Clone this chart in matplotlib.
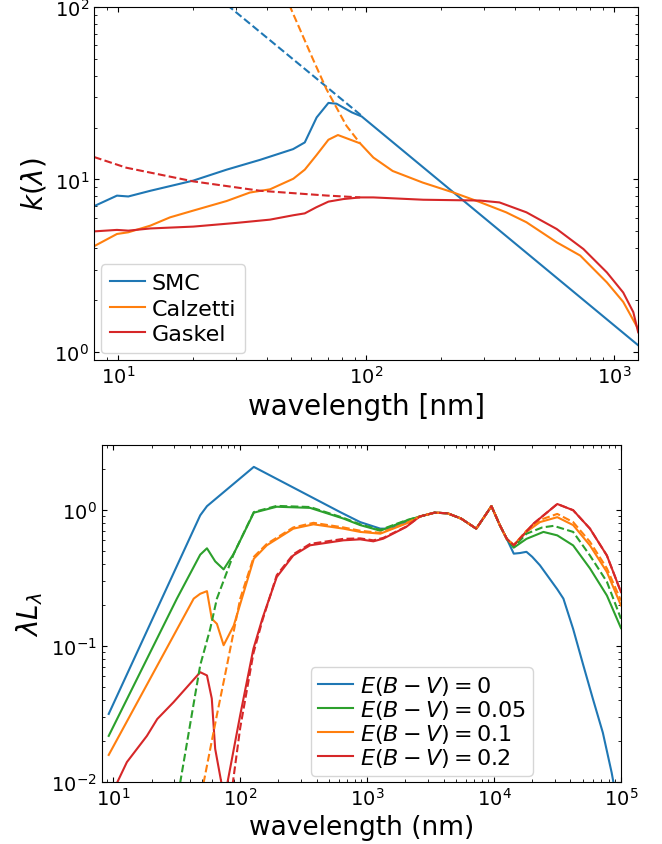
import matplotlib
matplotlib.use("Agg")
import matplotlib.pyplot as plt
import numpy as np

# ---- top panel: extinction curves k(lambda) ----
smc_x = [8.0, 9.9, 11.0, 13.5, 20.1, 27.4, 37.4, 50.8, 56.6, 63.2, 70.5, 76.0, 87.6, 96.0, 1253]
smc_y = [7.0, 8.06, 7.97, 8.6, 9.85, 11.4, 13.0, 15.0, 16.4, 22.9, 27.8, 27.5, 24.5, 23.2, 1.09]
smc_ext_x = [27.5, 96.0]
smc_ext_y = [103, 23.4]

calz_x = [8.0, 9.9, 11.0, 13.5, 16.2, 20.1, 27.4, 34.0, 41.0, 50.9, 56.6, 63.0, 70.5, 77.0, 94.6,
          107, 128, 169, 225, 287, 367, 443, 587, 730, 935, 1088, 1250]
calz_y = [4.1, 4.83, 4.94, 5.4, 6.03, 6.6, 7.5, 8.4, 8.77, 10.1, 11.4, 13.8, 17.0, 18.1, 16.2,
          13.4, 11.2, 9.6, 8.4, 7.4, 6.45, 5.65, 4.32, 3.62, 2.53, 1.95, 1.36]
calz_ext_x = [49.0, 61.0, 69.2, 83.3, 94.6]
calz_ext_y = [103, 50, 33.4, 20.5, 16.2]

gask_x = [8.0, 9.9, 11.0, 13.5, 20.1, 30.0, 41.0, 50.8, 56.6, 63.0, 70.5, 81.0, 94.6, 107,
          170, 287, 345, 443, 587, 752, 935, 1088, 1195, 1250]
gask_y = [5.0, 5.1, 5.05, 5.2, 5.33, 5.6, 5.85, 6.2, 6.36, 6.9, 7.44, 7.7, 7.87, 7.87,
          7.63, 7.55, 7.36, 6.45, 5.16, 3.95, 2.89, 2.21, 1.70, 1.30]
gask_ext_x = [8.0, 10.8, 20.1, 37.4, 69.2, 94.6]
gask_ext_y = [13.5, 11.7, 9.75, 8.6, 8.07, 7.87]

top_labels = ["SMC", "Calzetti", "Gaskel"]

# ---- bottom panel: reddened SEDs ----
mid_x = [2600, 3400, 4300, 5500, 7240, 8200, 9540, 11100, 12600]
mid_y = [0.89, 0.95, 0.94, 0.86, 0.725, 0.86, 1.06, 0.77, 0.61]

e0_x = [9.2, 48.4, 54.7, 128, 612, 881, 1270, 1520, 2030] + mid_x + \
       [14300, 16000, 18000, 20000, 23000, 31500, 35200, 42000, 50500, 60000, 72000, 84500, 88000]
e0_y = [0.0316, 0.908, 1.06, 2.06, 0.96, 0.81, 0.725, 0.725, 0.81] + mid_y + \
       [0.475, 0.48, 0.49, 0.45, 0.39, 0.26, 0.222, 0.133, 0.072, 0.041, 0.023, 0.0117, 0.0095]

e005_x = [9.2, 31.7, 48.4, 54.7, 63.5, 74, 89, 128, 194, 355, 650, 881, 1270, 2030] + mid_x + \
         [14300, 18000, 24500, 31500, 42000, 57000, 77500, 100000]
e005_y = [0.0218, 0.222, 0.467, 0.52, 0.417, 0.364, 0.475, 0.95, 1.05, 1.03, 0.86, 0.77, 0.70, 0.83] + mid_y + \
         [0.526, 0.61, 0.686, 0.647, 0.546, 0.37, 0.234, 0.135]
e005_int_x = [33.6, 48.4, 58, 65.5, 89, 128, 194, 355, 650, 881, 1270, 2030] + mid_x + \
             [14300, 18000, 24000, 29500, 42000, 57000, 77500, 100000]
e005_int_y = [0.0098, 0.072, 0.133, 0.222, 0.475, 0.96, 1.065, 1.045, 0.87, 0.78, 0.71, 0.835] + mid_y + \
             [0.53, 0.665, 0.74, 0.76, 0.686, 0.46, 0.295, 0.158]

e01_x = [9.2, 43, 48.4, 54.7, 59.7, 65.5, 74, 89, 103, 128, 162, 262, 378, 650, 881, 1270, 2030] + mid_x + \
        [14300, 18000, 23000, 31500, 42000, 57000, 77500, 100000]
e01_y = [0.0158, 0.222, 0.241, 0.252, 0.158, 0.145, 0.101, 0.141, 0.222, 0.436, 0.547, 0.725, 0.78,
         0.725, 0.686, 0.666, 0.79] + mid_y + \
        [0.547, 0.686, 0.81, 0.88, 0.77, 0.546, 0.348, 0.198]
e01_int_x = [51.4, 65.5, 78.7, 100, 128, 162, 262, 378, 650, 881, 1270, 2030] + mid_x + \
            [14300, 18000, 23000, 31500, 42000, 57000, 77500, 100000]
e01_int_y = [0.0098, 0.031, 0.072, 0.222, 0.45, 0.56, 0.74, 0.80, 0.74, 0.70, 0.675, 0.795] + mid_y + \
            [0.55, 0.70, 0.84, 0.93, 0.81, 0.58, 0.37, 0.215]

e02_x = [10.5, 12.8, 18.4, 22.2, 29.8, 48.4, 54.7, 59.7, 63.5, 71.6, 78.7, 100, 127, 150, 194, 262,
         355, 650, 881, 1120, 1340, 2030] + mid_x + \
        [14300, 20500, 31500, 42000, 57000, 77500, 100000]
e02_y = [0.0095, 0.014, 0.0218, 0.029, 0.0385, 0.064, 0.0606, 0.041, 0.0175, 0.0095, 0.0095, 0.031,
         0.095, 0.16, 0.32, 0.461, 0.547, 0.595, 0.605, 0.585, 0.612, 0.746] + mid_y + \
        [0.547, 0.79, 1.1, 0.99, 0.725, 0.46, 0.248]
e02_int_x = [87, 100, 127, 150, 194, 262, 355, 650, 881, 1120, 1340, 2030] + mid_x + \
            [14300, 20500, 31500, 42000, 57000, 77500, 100000]
e02_int_y = [0.0095, 0.025, 0.088, 0.155, 0.33, 0.47, 0.56, 0.61, 0.615, 0.595, 0.62, 0.75] + mid_y + \
            [0.547, 0.79, 1.1, 0.99, 0.725, 0.46, 0.248]

ebv_labels = [r"$E(B-V)=0$", r"$E(B-V)=0.05$", r"$E(B-V)=0.1$", r"$E(B-V)=0.2$"]

fig = plt.figure(figsize=(6.62, 8.45), dpi=100)
ax1 = fig.add_axes([0.142, 0.573, 0.822, 0.4175])
ax2 = fig.add_axes([0.1536, 0.0734, 0.7844, 0.3992])

blue, orange, green, red = "tab:blue", "tab:orange", "tab:green", "tab:red"

# top
ax1.loglog(smc_x, smc_y, color=blue, label=top_labels[0])
ax1.loglog(calz_x, calz_y, color=orange, label=top_labels[1])
ax1.loglog(gask_x, gask_y, color=red, label=top_labels[2])
ax1.loglog(smc_ext_x, smc_ext_y, "--", color=blue)
ax1.loglog(calz_ext_x, calz_ext_y, "--", color=orange)
ax1.loglog(gask_ext_x, gask_ext_y, "--", color=red)
ax1.set_xlim(8, 1250)
ax1.set_ylim(0.9, 100)
ax1.set_xlabel("wavelength [nm]", fontsize=20)
ax1.set_ylabel(r"$k(\lambda)$", fontsize=20)
ax1.legend(loc="lower left", fontsize=16, handlelength=1.6, handletextpad=0.3,
           labelspacing=0.25, borderaxespad=0.3)

# bottom
ax2.loglog(e0_x, e0_y, color=blue, label=ebv_labels[0])
ax2.loglog(e005_x, e005_y, color=green, label=ebv_labels[1])
ax2.loglog(e01_x, e01_y, color=orange, label=ebv_labels[2])
ax2.loglog(e02_x, e02_y, color=red, label=ebv_labels[3])
ax2.loglog(e005_int_x, e005_int_y, "--", color=green)
ax2.loglog(e01_int_x, e01_int_y, "--", color=orange)
ax2.loglog(e02_int_x, e02_int_y, "--", color=red)
ax2.set_xlim(8.1, 1e5)
ax2.set_ylim(0.01, 3.0)
ax2.set_xlabel("wavelength (nm)", fontsize=19)
ax2.set_ylabel(r"$\lambda L_\lambda$", fontsize=20)
ax2.legend(loc="lower right", bbox_to_anchor=(0.83, 0.018), borderaxespad=0,
           fontsize=16, handlelength=1.6, handletextpad=0.3, labelspacing=0.05,
           borderpad=0.3)

for ax in (ax1, ax2):
    ax.tick_params(which="both", direction="in", top=True, right=True, labelsize=14)

fig.savefig("out.png", dpi=100)
